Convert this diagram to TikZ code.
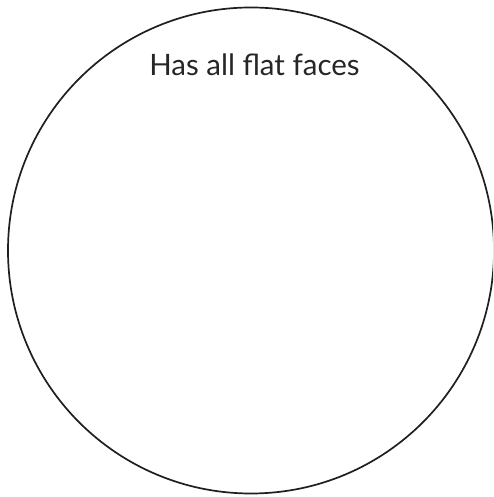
\documentclass[tikz,border=0pt]{standalone}
\usepackage{fontspec}
\setmainfont{Lato}
\begin{document}
\begin{tikzpicture}[x=1pt,y=1pt,
  ring/.style={draw=black!88, line width=1.7pt},
  label/.style={font=\fontsize{29.5}{32}\selectfont, text=black!85, anchor=base}]
\useasboundingbox (0,0) rectangle (493,497);
\clip (0,0) rectangle (493,497);
\node[ring, circle, minimum size=486pt, inner sep=0pt] (venn) at (251,246.5) {};
\node[label] (title) at (254.5,421) {Has all flat faces};
\end{tikzpicture}
\end{document}
